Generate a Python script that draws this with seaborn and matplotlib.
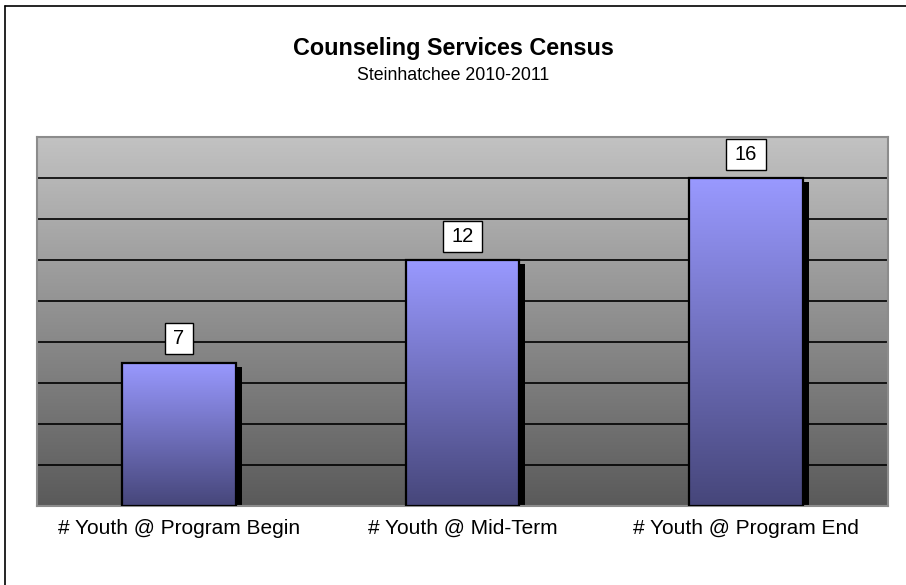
import numpy as np
import pandas as pd
import matplotlib
matplotlib.use("Agg")
import matplotlib.pyplot as plt
import matplotlib.transforms as mtransforms
from matplotlib.colors import LinearSegmentedColormap
from matplotlib.patches import Rectangle
import seaborn as sns

# --- data ---
categories = ["# Youth @ Program Begin", "# Youth @ Mid-Term", "# Youth @ Program End"]
counts = [7, 12, 16]

sns.set_style("white")
plt.rcParams["font.family"] = ["Liberation Sans", "DejaVu Sans"]
plt.rcParams["text.color"] = "black"
plt.rcParams["xtick.color"] = "black"

df = pd.DataFrame({"stage": categories, "youth": counts})

fig = plt.figure(figsize=(9.06, 5.85), dpi=100)
ax = fig.add_axes([37 / 906, 79 / 585, 851 / 906, 369 / 585])

# outer chart frame (left and top edges visible)
fig.add_artist(plt.Line2D([5 / 906, 5 / 906], [0, 1 - 6 / 585], color="black", lw=1.2,
                          transform=fig.transFigure))
fig.add_artist(plt.Line2D([5 / 906, 1], [1 - 6 / 585, 1 - 6 / 585], color="black", lw=1.2,
                          transform=fig.transFigure))

sns.barplot(data=df, x="stage", y="youth", width=0.4, ax=ax, color="#9999ff",
            edgecolor="black", linewidth=1.6, zorder=3)

# gray gradient background
bg_cmap = LinearSegmentedColormap.from_list("bg", ["#5a5a5a", "#c2c2c2"])
grad = np.linspace(0, 1, 256).reshape(-1, 1)
ax.imshow(grad, extent=[0, 1, 0, 1], transform=ax.transAxes, origin="lower",
          cmap=bg_cmap, aspect="auto", zorder=0)

# horizontal grid lines
for yv in range(2, 18, 2):
    ax.axhline(yv, color="black", lw=1.2, zorder=1)

# bar gradients and drop shadows
bar_cmap = LinearSegmentedColormap.from_list("bar", ["#46467a", "#9999ff"])
shadow_tf = mtransforms.offset_copy(ax.transData, fig=fig, x=6, y=-4, units="dots")
labels = []
for patch, val in zip(ax.patches, counts):
    x0, w, h = patch.get_x(), patch.get_width(), patch.get_height()
    shadow = Rectangle((x0, 0), w, h, facecolor="black", edgecolor="none",
                       transform=shadow_tf, zorder=2)
    ax.add_patch(shadow)
    img = ax.imshow(grad, extent=[x0, x0 + w, 0, h], origin="lower", cmap=bar_cmap,
                    aspect="auto", zorder=3)
    img.set_clip_path(patch)
    patch.set_facecolor("none")
    patch.set_zorder(4)
    t = ax.annotate(str(val), (x0 + w / 2, h), xytext=(0, 17), textcoords="offset points",
                    ha="center", va="center", fontsize=14.5, zorder=6)
    labels.append(t)

ax.set_aspect("auto")
ax.set_xlim(-0.5, 2.5)
ax.set_ylim(0, 18)

# axes styling
for side in ["left", "right", "top", "bottom"]:
    ax.spines[side].set_color("#8c8c8c")
    ax.spines[side].set_linewidth(1.5)
ax.set_yticks([])
ax.set_xlabel("")
ax.set_ylabel("")
ax.set_xticks([0, 1, 2])
ax.set_xticklabels(categories, fontsize=15)
ax.tick_params(axis="x", which="major", length=0, pad=9)
ax.set_xticks([-0.5, 0.5, 1.5, 2.5], minor=True)
ax.tick_params(axis="x", which="minor", length=6, color="#8c8c8c", width=1.2, direction="out")

fig.text(0.5, 1 - 48 / 585, "Counseling Services Census", ha="center", va="center",
         fontsize=16.8, fontweight="bold")
fig.text(0.5, 1 - 76 / 585, "Steinhatchee 2010-2011", ha="center", va="center",
         fontsize=12.8)

# white value boxes sized around each label (wider side padding than top/bottom)
fig.canvas.draw()
renderer = fig.canvas.get_renderer()
for t in labels:
    bb = t.get_window_extent(renderer)
    cx, cy = (bb.x0 + bb.x1) / 2, (bb.y0 + bb.y1) / 2
    bw, bh = bb.width + 17, 31
    box = Rectangle((cx - bw / 2, cy - bh / 2), bw, bh, transform=None,
                    facecolor="white", edgecolor="black", lw=1, zorder=5)
    ax.add_artist(box)

fig.savefig("out.png", dpi=100)
